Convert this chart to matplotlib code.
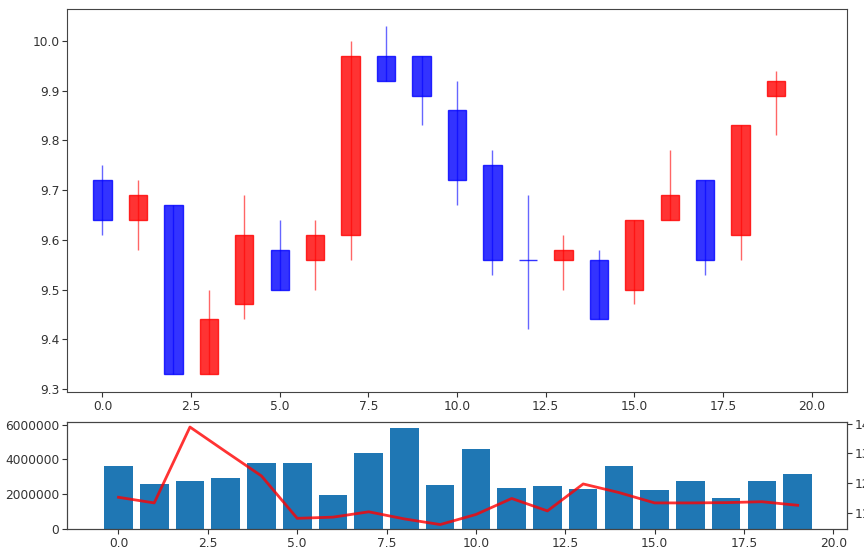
import matplotlib
matplotlib.use("Agg")
import matplotlib.pyplot as plt
from matplotlib.patches import Rectangle
import numpy as np

plt.rcParams['font.family'] = ['DejaVu Sans']
plt.rcParams['font.size'] = 8.8

days = list(range(20))
opens  = [9.72, 9.64, 9.67, 9.33, 9.47, 9.58, 9.56, 9.61, 9.97, 9.97,
          9.86, 9.75, 9.56, 9.56, 9.56, 9.50, 9.64, 9.72, 9.61, 9.89]
closes = [9.64, 9.69, 9.33, 9.44, 9.61, 9.50, 9.61, 9.97, 9.92, 9.89,
          9.72, 9.56, 9.56, 9.58, 9.44, 9.64, 9.69, 9.56, 9.83, 9.92]
highs  = [9.75, 9.72, 9.67, 9.50, 9.69, 9.64, 9.64, 10.00, 10.03, 9.97,
          9.92, 9.78, 9.69, 9.61, 9.58, 9.64, 9.78, 9.72, 9.83, 9.94]
lows   = [9.61, 9.58, 9.33, 9.33, 9.44, 9.50, 9.50, 9.56, 9.92, 9.83,
          9.67, 9.53, 9.42, 9.50, 9.44, 9.47, 9.64, 9.53, 9.56, 9.81]
volumes = [3615000, 2612000, 2782000, 2953000, 3804000, 3804000, 1968000,
           4353000, 5830000, 2555000, 4618000, 2347000, 2498000, 2290000,
           3615000, 2233000, 2744000, 1798000, 2744000, 3180000]
line_vals = [11.52, 11.33, 13.89, 13.06, 12.24, 10.81, 10.85, 11.03, 10.79, 10.60,
             10.94, 11.48, 11.06, 11.97, 11.68, 11.33, 11.33, 11.34, 11.37, 11.25]

W, H = 864, 548
fig = plt.figure(figsize=(W / 100, H / 100), dpi=100)

def rect(l, t, r, b):
    return [l / W, 1 - b / H, (r - l) / W, (b - t) / H]

ax1 = fig.add_axes(rect(67, 9, 847, 392))
ax2 = fig.add_axes(rect(67, 422, 847, 529))

cw = 0.52
for x, o, c, h, l in zip(days, opens, closes, highs, lows):
    col = 'red' if c > o else 'blue'
    ax1.vlines(x, l, h, color=col, linewidth=1, alpha=0.6, zorder=3)
    if abs(c - o) < 1e-9:
        ax1.hlines(o, x - cw / 2, x + cw / 2, color=col, linewidth=1, alpha=0.8, zorder=3)
    else:
        ax1.add_patch(Rectangle((x - cw / 2, min(o, c)), cw, abs(c - o),
                                facecolor=col, edgecolor=col, alpha=0.8,
                                linewidth=1, zorder=2))

xt = [0, 2.5, 5, 7.5, 10, 12.5, 15, 17.5, 20]
xtl = ['0.0', '2.5', '5.0', '7.5', '10.0', '12.5', '15.0', '17.5', '20.0']

ax1.set_xlim(-1.0, 21.0)
ax1.set_ylim(9.294, 10.064)
ax1.set_xticks(xt)
ax1.set_xticklabels(xtl)
ax1.set_yticks([9.3, 9.4, 9.5, 9.6, 9.7, 9.8, 9.9, 10.0])
ax1.set_yticklabels(['9.3', '9.4', '9.5', '9.6', '9.7', '9.8', '9.9', '10.0'])

ax2.bar(days, volumes, width=0.8, color='#1f77b4', zorder=2)
ax2.set_xlim(-1.44, 20.38)
ax2.set_ylim(0, 6154000)
ax2.set_yticks([0, 2000000, 4000000, 6000000])
ax2.set_yticklabels(['0', '2000000', '4000000', '6000000'])
ax2.set_xticks(xt)
ax2.set_xticklabels(xtl)

ax3 = ax2.twinx()
ax3.plot(days, line_vals, color='red', linewidth=2, alpha=0.8)
ax3.set_ylim(10.45, 14.06)
ax3.set_yticks([11, 12, 13, 14])
ax3.set_yticklabels(['11', '12', '13', '14'])

for a in (ax1, ax2, ax3):
    for s in a.spines.values():
        s.set_color('#444444')
    a.tick_params(colors='#333333', labelcolor='#333333', pad=2)

fig.savefig('out.png', dpi=100)
